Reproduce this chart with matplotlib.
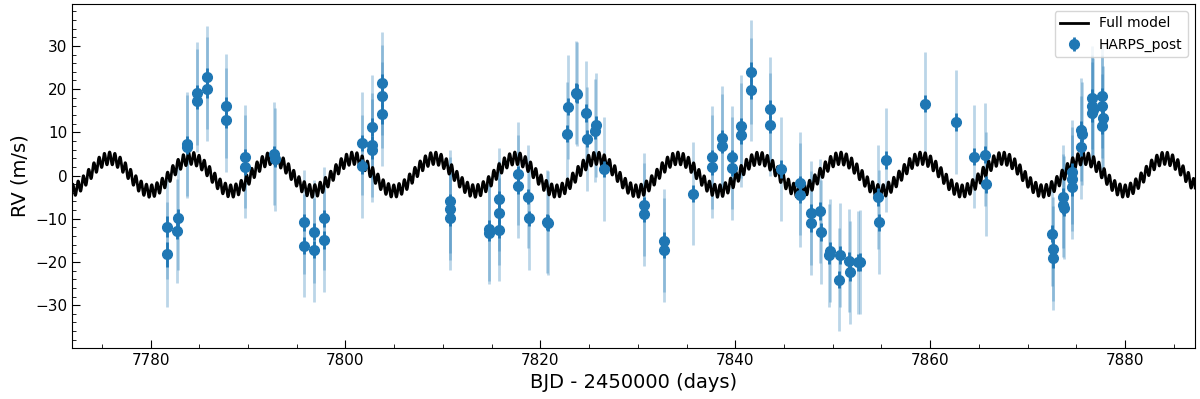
import numpy as np
import matplotlib
matplotlib.use("Agg")
import matplotlib.pyplot as plt
from matplotlib.ticker import MultipleLocator

# HARPS_post radial velocities (BJD - 2450000, m/s)
bjd = [7781.70, 7781.70, 7782.69, 7782.79, 7783.72, 7783.75, 7784.74, 7784.80,
       7785.77, 7785.77, 7787.75, 7787.75, 7789.73, 7789.73, 7792.71, 7792.75,
       7795.72, 7795.72, 7796.79, 7796.79, 7797.78, 7797.78, 7801.75, 7801.72,
       7802.77, 7802.72, 7802.77, 7803.74, 7803.74, 7803.78, 7810.68, 7810.68,
       7810.72, 7814.70, 7814.74, 7815.78, 7815.74, 7815.80, 7817.73, 7817.75,
       7818.69, 7818.80, 7820.72, 7820.78, 7822.79, 7822.75, 7823.69, 7823.80,
       7824.68, 7824.75, 7825.67, 7825.62, 7826.56, 7830.67, 7830.67, 7832.65,
       7832.65, 7835.63, 7837.65, 7837.65, 7838.64, 7838.64, 7839.67, 7839.67,
       7840.63, 7840.58, 7841.65, 7841.65, 7843.60, 7843.60, 7844.70, 7846.68,
       7846.62, 7847.81, 7847.75, 7848.67, 7848.77, 7849.76, 7849.66, 7850.72,
       7850.66, 7851.64, 7851.74, 7852.62, 7852.78, 7854.62, 7854.72, 7855.51,
       7859.50, 7862.67, 7864.55, 7865.58, 7865.76, 7872.54, 7872.56, 7872.56,
       7873.61, 7873.61, 7873.72, 7874.51, 7874.60, 7874.55, 7875.50, 7875.60,
       7875.53, 7876.63, 7876.65, 7876.72, 7876.58, 7877.66, 7877.66, 7877.70,
       7877.62]
rv = [-11.8, -18.2, -12.8, -9.8, 7.3, 6.7, 19.0, 17.3,
      22.7, 20.1, 16.1, 12.9, 4.4, 2.0, 5.0, 3.8,
      -10.8, -16.2, -13.0, -17.2, -9.9, -14.9, 7.5, 2.1,
      11.2, 7.1, 5.8, 21.3, 18.3, 14.2, -6.0, -7.7,
      -9.9, -12.4, -13.2, -5.5, -8.7, -12.5, 0.4, -2.5,
      -4.9, -9.9, -10.7, -11.0, 15.9, 9.7, 19.2, 18.9,
      14.5, 8.5, 11.7, 10.4, 1.5, -6.8, -9.0, -15.1,
      -17.2, -4.2, 4.2, 2.0, 8.7, 6.9, 4.2, 1.7,
      11.4, 9.4, 24.0, 19.9, 15.4, 11.8, 1.5, -1.8,
      -4.5, -8.7, -11.0, -8.2, -13.1, -17.4, -18.5, -18.4,
      -24.1, -19.7, -22.4, -20.1, -20.0, -5.0, -10.8, 3.6,
      16.6, 12.4, 4.4, 4.8, -2.0, -13.5, -17.0, -19.1,
      -4.9, -6.9, -7.4, -2.7, -0.8, 0.8, 10.6, 9.7,
      6.5, 18.0, 16.0, 15.2, 14.4, 18.3, 16.0, 13.3,
      11.5]
rv_err = [2.5, 2.9, 2.0, 2.0, 1.8, 1.8, 2.0, 2.0,
          2.2, 2.2, 2.0, 2.0, 1.8, 1.8, 1.8, 1.8,
          2.0, 2.0, 2.0, 2.0, 2.0, 2.0, 1.8, 1.8,
          2.0, 2.0, 2.0, 2.2, 2.2, 2.2, 1.8, 1.8,
          1.8, 2.0, 2.0, 2.0, 2.0, 2.0, 1.8, 1.8,
          1.8, 1.8, 1.8, 1.8, 2.0, 2.0, 2.2, 2.2,
          2.0, 2.0, 2.0, 2.0, 1.8, 1.8, 1.8, 2.0,
          2.0, 2.0, 1.8, 1.8, 1.8, 1.8, 1.8, 1.8,
          2.0, 2.0, 2.2, 2.2, 2.0, 2.0, 2.0, 1.8,
          1.8, 2.0, 2.0, 2.0, 2.0, 2.0, 2.0, 2.0,
          2.0, 2.0, 2.0, 2.0, 2.0, 2.0, 2.0, 2.0,
          2.0, 2.0, 2.0, 2.0, 2.0, 2.0, 2.2, 2.2,
          2.0, 2.0, 2.0, 2.0, 2.0, 2.0, 2.0, 2.0,
          2.0, 2.0, 2.0, 2.0, 2.0, 2.0, 2.0, 2.0,
          2.0]
jitter = 11.8

# full model: two circular signals
P1, K1, T1 = 8.33, 3.8, 7775.8
P2, K2, T2 = 0.54, 1.45, 7775.8
offset = 0.2

xlim = (7771.94, 7887.2)

bjd = np.array(bjd)
rv = np.array(rv)
rv_err = np.array(rv_err)
err_jit = np.sqrt(rv_err**2 + jitter**2)

tm = np.linspace(xlim[0], xlim[1], 20000)
model = offset + K1*np.cos(2*np.pi*(tm - T1)/P1) + K2*np.cos(2*np.pi*(tm - T2)/P2)

fig, ax = plt.subplots(figsize=(12, 3.99), dpi=100)
fig.subplots_adjust(left=0.06, right=0.996, top=0.99, bottom=0.128)

ax.errorbar(bjd, rv, yerr=err_jit, fmt='none', ecolor='C0', alpha=0.3,
            elinewidth=2.0, zorder=1)
ax.plot(tm, model, color='k', lw=2.0, label='Full model', zorder=2)
ax.errorbar(bjd, rv, yerr=rv_err, fmt='o', color='C0', ms=7,
            elinewidth=2.0, label='HARPS_post', zorder=3)

ax.set_xlim(*xlim)
ax.set_ylim(-39.9, 39.7)
ax.xaxis.set_major_locator(MultipleLocator(20))
ax.xaxis.set_minor_locator(MultipleLocator(5))
ax.yaxis.set_major_locator(MultipleLocator(10))
ax.yaxis.set_minor_locator(MultipleLocator(2))
ax.tick_params(which='both', direction='in', labelsize=11)
ax.tick_params(which='major', length=6)
ax.tick_params(which='minor', length=3)

ax.set_xlabel('BJD - 2450000 (days)', fontsize=14)
ax.set_ylabel('RV (m/s)', fontsize=14)
ax.legend(loc='upper right', fontsize=10)

plt.savefig('out.png')
